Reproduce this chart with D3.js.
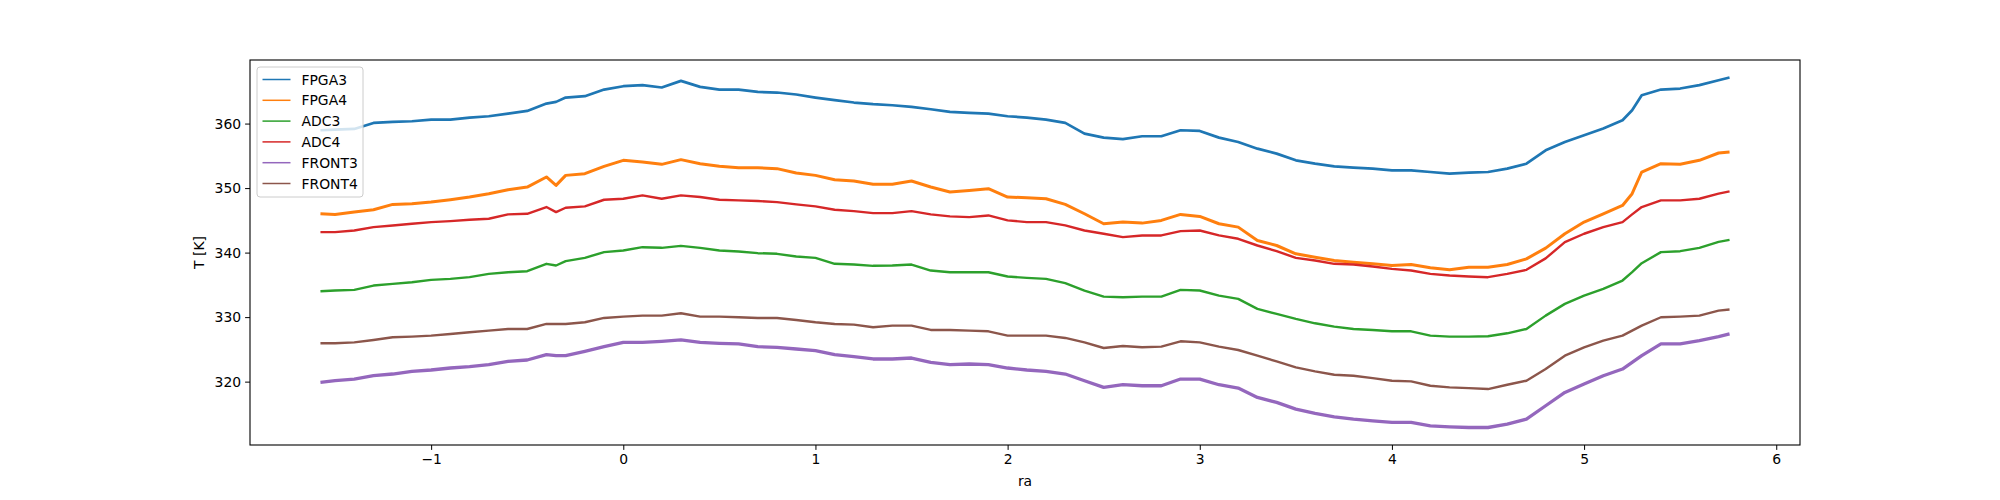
<!DOCTYPE html>
<html>
<head>
<meta charset="utf-8">
<script src="https://cdn.jsdelivr.net/npm/d3@7"></script>
<style>
body { margin: 0; background: #fff; }
svg { font-family: "DejaVu Sans", sans-serif; }
</style>
</head>
<body>
<svg width="2000" height="500"></svg>
<script>
var ra = [-1.576, -1.5, -1.4, -1.3, -1.2, -1.1, -1.0, -0.9, -0.8, -0.7, -0.6, -0.5, -0.4, -0.35, -0.3, -0.2, -0.1, 0.0, 0.1, 0.2, 0.3, 0.4, 0.5, 0.6, 0.7,
  0.8, 0.9, 1.0, 1.1, 1.2, 1.3, 1.4, 1.5, 1.6, 1.7, 1.8, 1.9, 2.0, 2.1, 2.2, 2.3, 2.4, 2.5, 2.6, 2.7, 2.8, 2.9, 3.0, 3.1, 3.2, 3.3, 3.4,
  3.5, 3.6, 3.7, 3.8, 3.9, 4.0, 4.1, 4.2, 4.3, 4.4, 4.5, 4.6, 4.7, 4.8, 4.9, 5.0, 5.1, 5.2, 5.25, 5.3, 5.4, 5.5, 5.6, 5.7, 5.757];

var fpga3 = [358.96, 359.06, 359.17, 360.1, 360.25, 360.36, 360.62, 360.62, 360.93, 361.13, 361.55, 361.96, 363.1, 363.36, 364.03, 364.24, 365.27, 365.79, 365.95, 365.59, 366.62, 365.69, 365.27, 365.27, 364.91,
  364.81, 364.5, 364.03, 363.62, 363.26, 363.0, 362.84, 362.58, 362.22, 361.81, 361.65, 361.55, 361.13, 360.93, 360.62, 360.1, 358.44, 357.82, 357.6, 358.03, 358.03, 358.96, 358.86, 357.82, 357.15, 356.11, 355.34,
  354.3, 353.78, 353.37, 353.16, 353.01, 352.75, 352.75, 352.49, 352.23, 352.39, 352.49, 353.01, 353.78, 355.86, 357.15, 358.18, 359.22, 360.51, 362.07, 364.4, 365.27, 365.43, 365.95, 366.72, 367.14];

var fpga4 = [346.02, 345.92, 346.28, 346.64, 347.47, 347.57, 347.83, 348.19, 348.61, 349.13, 349.75, 350.16, 351.72, 350.42, 351.97, 352.23, 353.37, 354.3, 354.04, 353.68, 354.41, 353.78, 353.37, 353.16, 353.16,
  353.01, 352.34, 351.97, 351.3, 351.09, 350.58, 350.58, 351.09, 350.16, 349.39, 349.64, 349.9, 348.61, 348.5, 348.35, 347.47, 346.02, 344.47, 344.73, 344.57, 344.99, 345.92, 345.61, 344.47, 343.95, 341.88, 341.1,
  339.81, 339.29, 338.77, 338.52, 338.26, 338.0, 338.15, 337.64, 337.33, 337.74, 337.74, 338.15, 339.03, 340.7, 342.92, 344.73, 346.02, 347.31, 349.13, 352.49, 353.78, 353.68, 354.3, 355.44, 355.6];

var adc3 = [334.01, 334.12, 334.22, 334.89, 335.15, 335.41, 335.77, 335.93, 336.19, 336.7, 336.96, 337.12, 338.26, 338.0, 338.67, 339.19, 340.07, 340.33, 340.84, 340.74, 341.05, 340.74, 340.33, 340.17, 339.91,
  339.81, 339.4, 339.19, 338.26, 338.15, 337.95, 338.0, 338.15, 337.22, 336.96, 336.96, 336.96, 336.29, 336.08, 335.93, 335.26, 334.12, 333.18, 333.08, 333.18, 333.18, 334.22, 334.12, 333.34, 332.82, 331.27, 330.49,
  329.72, 329.04, 328.53, 328.16, 328.01, 327.8, 327.8, 327.13, 326.97, 326.97, 327.03, 327.49, 328.16, 330.23, 332.05, 333.34, 334.37, 335.67, 336.96, 338.36, 340.07, 340.22, 340.74, 341.67, 341.98];

var adc4 = [343.17, 343.17, 343.43, 343.95, 344.21, 344.47, 344.73, 344.88, 345.09, 345.24, 345.92, 346.02, 347.06, 346.28, 346.95, 347.16, 348.19, 348.35, 348.87, 348.35, 348.87, 348.61, 348.19, 348.09, 347.99,
  347.83, 347.47, 347.16, 346.64, 346.43, 346.12, 346.12, 346.43, 345.92, 345.61, 345.5, 345.76, 344.99, 344.73, 344.73, 344.21, 343.43, 342.92, 342.4, 342.66, 342.66, 343.33, 343.43, 342.66, 342.14, 341.1, 340.22,
  339.19, 338.77, 338.26, 338.15, 337.84, 337.48, 337.22, 336.7, 336.45, 336.29, 336.19, 336.7, 337.33, 339.1, 341.62, 342.92, 343.95, 344.73, 345.92, 347.06, 348.09, 348.09, 348.35, 349.13, 349.49];

var front3 = [319.88, 320.14, 320.4, 320.92, 321.18, 321.59, 321.8, 322.11, 322.32, 322.63, 323.14, 323.35, 324.18, 324.02, 324.02, 324.7, 325.42, 326.09, 326.09, 326.25, 326.46, 326.09, 325.94, 325.84, 325.42,
  325.32, 325.06, 324.8, 324.18, 323.87, 323.51, 323.51, 323.66, 322.99, 322.63, 322.73, 322.63, 322.11, 321.8, 321.59, 321.18, 320.14, 319.11, 319.52, 319.36, 319.36, 320.4, 320.4, 319.52, 319.0, 317.55, 316.78,
  315.74, 315.07, 314.55, 314.19, 313.93, 313.67, 313.67, 313.15, 313.0, 312.89, 312.89, 313.41, 314.19, 316.26, 318.33, 319.62, 320.92, 321.95, 322.99, 324.02, 325.84, 325.84, 326.35, 326.97, 327.39];

var front4 = [325.94, 325.94, 326.09, 326.46, 326.87, 326.97, 327.13, 327.39, 327.65, 327.91, 328.16, 328.16, 328.94, 328.94, 328.94, 329.2, 329.87, 330.08, 330.23, 330.23, 330.6, 330.08, 330.08, 329.98, 329.87,
  329.87, 329.56, 329.2, 328.94, 328.84, 328.42, 328.68, 328.68, 328.01, 328.01, 327.91, 327.8, 327.13, 327.13, 327.13, 326.77, 326.09, 325.21, 325.52, 325.32, 325.42, 326.25, 326.09, 325.42, 324.9, 324.02, 323.14,
  322.21, 321.59, 321.07, 320.92, 320.55, 320.14, 320.04, 319.36, 319.11, 319.0, 318.85, 319.52, 320.14, 321.95, 324.02, 325.32, 326.35, 327.13, 327.9, 328.68, 329.98, 330.08, 330.23, 331.01, 331.17];

var names = ["FPGA3", "FPGA4", "ADC3", "ADC4", "FRONT3", "FRONT4"];
var values = [fpga3, fpga4, adc3, adc4, front3, front4];
var colors = ["#1f77b4", "#ff7f0e", "#2ca02c", "#d62728", "#9467bd", "#8c564b"];
var widths = [2.7, 3, 2.4, 2.4, 3.3, 2.4]; // thicker where the signal is noisy
var xTicks = [-1, 0, 1, 2, 3, 4, 5, 6];
var yTicks = [320, 330, 340, 350, 360];

var svg = d3.select("svg");
// note: "top" is a reserved window property, so prefix the margins
var mLeft = 250, mRight = 1800, mTop = 60, mBottom = 445;

// matplotlib style 5% margins
var xExt = d3.extent(ra), xPad = (xExt[1] - xExt[0]) * 0.05;
var allY = d3.merge(values);
var yExt = d3.extent(allY), yPad = (yExt[1] - yExt[0]) * 0.05;

var x = d3.scaleLinear().domain([xExt[0] - xPad, xExt[1] + xPad]).range([mLeft, mRight]);
var y = d3.scaleLinear().domain([yExt[0] - yPad, yExt[1] + yPad]).range([mBottom, mTop]);

svg.append("rect").attr("width", 2000).attr("height", 500).attr("fill", "#fff");

var series = names.map(function(n, i) {
    return { name: n, color: colors[i], width: widths[i],
        points: ra.map(function(r, j) { return [r, values[i][j]]; }) };
});

var line = d3.line()
    .x(function(d) { return x(d[0]); })
    .y(function(d) { return y(d[1]); });

svg.append("defs").append("clipPath").attr("id", "clip")
  .append("rect").attr("x", mLeft).attr("y", mTop).attr("width", mRight - mLeft).attr("height", mBottom - mTop);

svg.append("g").attr("clip-path", "url(#clip)")
  .selectAll("path")
    .data(series)
  .enter().append("path")
    .attr("d", function(d) { return line(d.points); })
    .attr("fill", "none")
    .attr("stroke", function(d) { return d.color; })
    .attr("stroke-width", function(d) { return d.width; })
    .attr("stroke-linejoin", "round");

// axes
var xAxis = svg.append("g")
    .attr("transform", "translate(0," + mBottom + ")")
    .call(d3.axisBottom(x).tickValues(xTicks).tickSizeInner(4.9).tickSizeOuter(0).tickPadding(4)
        .tickFormat(function(d) { return d < 0 ? "\u2212" + Math.abs(d) : d; }));
var yAxis = svg.append("g")
    .attr("transform", "translate(" + mLeft + ",0)")
    .call(d3.axisLeft(y).tickValues(yTicks).tickSizeInner(4.9).tickSizeOuter(0).tickPadding(4));

[xAxis, yAxis].forEach(function(a) {
    a.select(".domain").remove();
    a.selectAll("line").attr("stroke", "#000").attr("stroke-width", 1);
    a.selectAll("text").attr("fill", "#000").style("font-size", "13.9px").style("font-family", "DejaVu Sans");
});

svg.append("rect")
    .attr("x", mLeft).attr("y", mTop).attr("width", mRight - mLeft).attr("height", mBottom - mTop)
    .attr("fill", "none").attr("stroke", "#000").attr("stroke-width", 1.1);

svg.append("text")
    .attr("x", (mLeft + mRight) / 2).attr("y", 486)
    .attr("text-anchor", "middle").style("font-size", "13.9px")
    .text("ra");

svg.append("text")
    .attr("transform", "translate(204," + (mTop + mBottom) / 2 + ") rotate(-90)")
    .attr("text-anchor", "middle").style("font-size", "13.9px")
    .text("T [K]");

// legend
var legend = svg.append("g").attr("transform", "translate(257,67)");
legend.append("rect")
    .attr("width", 106).attr("height", 130).attr("rx", 3)
    .attr("fill", "#fff").attr("fill-opacity", 0.8)
    .attr("stroke", "#ccc").attr("stroke-width", 1);

var item = legend.selectAll(".item")
    .data(series)
  .enter().append("g")
    .attr("class", "item")
    .attr("transform", function(d, i) { return "translate(0," + (12.5 + i * 20.8) + ")"; });
item.append("line")
    .attr("x1", 5.5).attr("x2", 33.5)
    .attr("stroke", function(d) { return d.color; })
    .attr("stroke-width", 1.5);
item.append("text")
    .attr("x", 44.5).attr("y", 5)
    .style("font-size", "13.9px")
    .text(function(d) { return d.name; });
</script>
</body>
</html>
